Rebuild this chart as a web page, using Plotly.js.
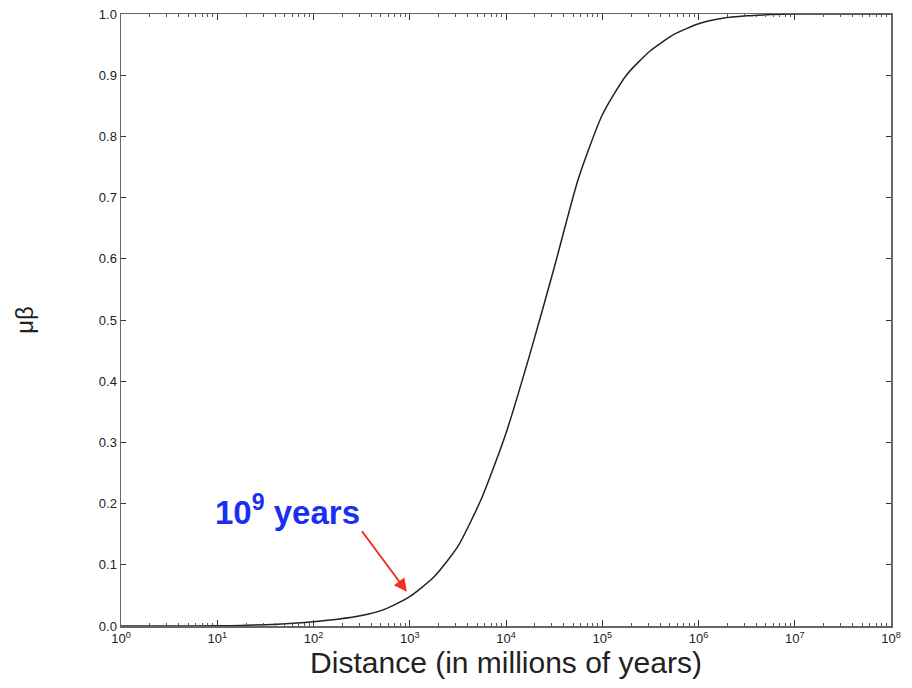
<!DOCTYPE html>
<html>
<head>
<meta charset="utf-8">
<script src="https://cdn.plot.ly/plotly-3.0.1.min.js"></script>
<style>html,body{margin:0;padding:0;background:#fff;}#chart{width:912px;height:688px;}</style>
</head>
<body>
<div id="chart"></div>
<script>
// Distance in millions of years (log10 of it) and mu-beta values
var logDistance = [0, 0.5, 1, 1.25, 1.5, 1.75, 2, 2.25, 2.5, 2.75, 3, 3.25, 3.5, 3.75, 4, 4.25, 4.5, 4.75, 5, 5.25, 5.5, 5.75, 6, 6.25, 6.5, 6.75, 7, 7.5, 8];
var muBeta      = [0, 0, 0.0003, 0.001, 0.002, 0.004, 0.007, 0.011, 0.017, 0.028, 0.048, 0.08, 0.13, 0.21, 0.315, 0.445, 0.585, 0.73, 0.835, 0.9, 0.94, 0.967, 0.984, 0.993, 0.997, 0.999, 1.0, 1.0, 1.0];
var distance = logDistance.map(function(v){ return Math.pow(10, v); });

var xTickVals = [1, 10, 100, 1000, 1e4, 1e5, 1e6, 1e7, 1e8];
var xTickText = ['10<sup>0</sup>','10<sup>1</sup>','10<sup>2</sup>','10<sup>3</sup>','10<sup>4</sup>','10<sup>5</sup>','10<sup>6</sup>','10<sup>7</sup>','10<sup>8</sup>'];
var yTickVals = [0,0.1,0.2,0.3,0.4,0.5,0.6,0.7,0.8,0.9,1.0];
var yTickText = ['0.0','0.1','0.2','0.3','0.4','0.5','0.6','0.7','0.8','0.9','1.0'];

var trace = {
  x: distance, y: muBeta, type: 'scatter', mode: 'lines',
  line: {color: '#222', width: 1.5, shape: 'spline', smoothing: 0.6},
  hoverinfo: 'skip'
};

var layout = {
  width: 912, height: 688,
  margin: {l: 121, r: 21, t: 14, b: 62},
  paper_bgcolor: '#fff', plot_bgcolor: '#fff',
  font: {family: 'Liberation Sans, Arial, sans-serif', color: '#222', size: 13},
  showlegend: false,
  xaxis: {
    type: 'log', range: [0, 8], tickvals: xTickVals, ticktext: xTickText,
    showline: true, linecolor: '#666', linewidth: 1.5, mirror: 'ticks',
    ticks: 'inside', ticklen: 6, tickcolor: '#333', showgrid: false, zeroline: false,
    minor: {ticks: 'inside', ticklen: 3, tickcolor: '#555', dtick: 'D1', showgrid: false},
    tickfont: {size: 13}, automargin: false,
    title: {text: 'Distance (in millions of years)', font: {size: 30, color: '#222'}, standoff: 0}
  },
  yaxis: {
    range: [0, 1], tickvals: yTickVals, ticktext: yTickText,
    showline: true, linecolor: '#666', linewidth: 1.5, mirror: 'ticks',
    ticks: 'inside', ticklen: 5, tickcolor: '#333', showgrid: false, zeroline: false,
    tickfont: {size: 13}, automargin: false,
    title: {text: 'μβ', font: {size: 24, color: '#222'}, standoff: 58}
  },
  annotations: [
    {
      x: Math.log10(1000) - 0.03, y: 0.056, xref: 'x', yref: 'y',
      text: '', showarrow: true, arrowhead: 2, arrowsize: 1.3, arrowwidth: 2,
      arrowcolor: '#ee3322', ax: -46, ay: -62
    },
    {
      x: 1.735, y: 0.19, xref: 'x', yref: 'y', showarrow: false,
      text: '<b>10<sup>9</sup> years</b>',
      font: {family: 'Liberation Sans, Arial, sans-serif', size: 33, color: '#1a2ff0'}
    }
  ]
};

Plotly.newPlot('chart', [trace], layout, {displayModeBar: false, staticPlot: true});
</script>
</body>
</html>
